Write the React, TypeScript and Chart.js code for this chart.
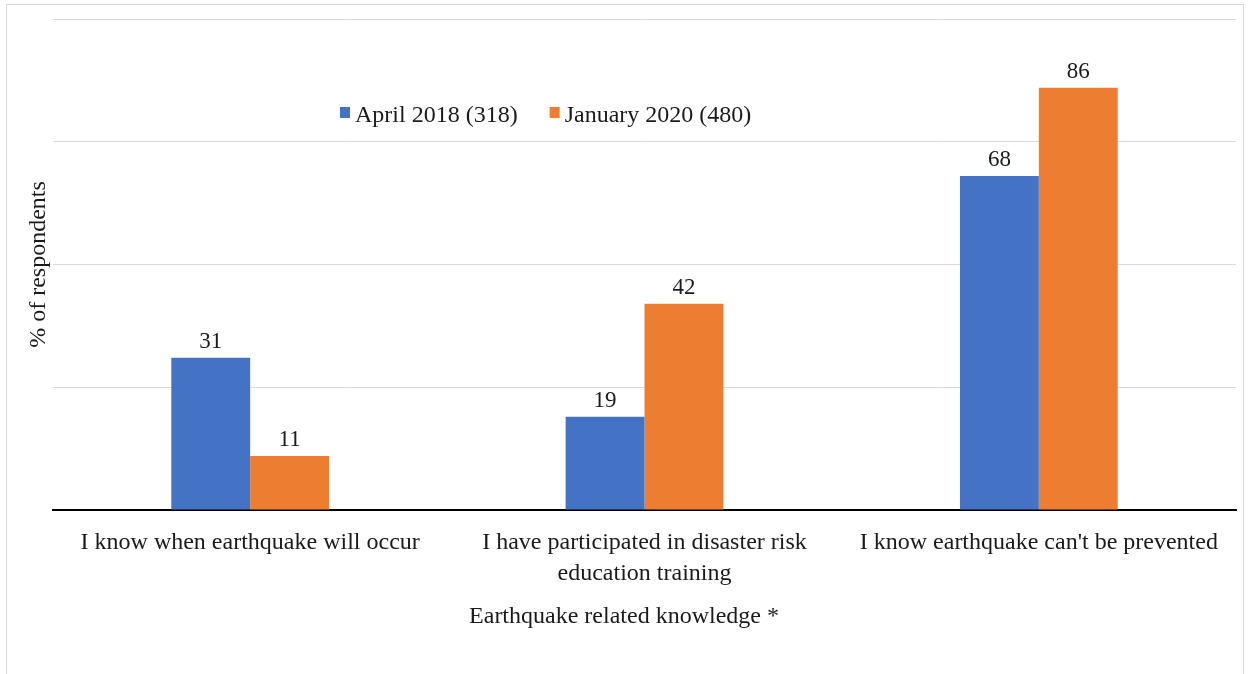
import React, { useEffect, useRef } from "react";
import { Chart, registerables } from "chart.js";

Chart.register(...registerables);

const categories: (string | string[])[] = [
  "I know when earthquake will occur",
  ["I have participated in disaster risk", "education training"],
  "I know earthquake can't be prevented",
];
const seriesNames = ["April 2018 (318)", "January 2020 (480)"];
const april2018 = [31, 19, 68];
const january2020 = [11, 42, 86];
const yMin = 0;
const yMax = 100;
const yStep = 25;
const xTitle = "Earthquake related knowledge *";
const yTitle = "% of respondents";
const colors = ["#4472C4", "#ED7D31"];
const FONT = "'Liberation Serif', 'Times New Roman', serif";
const TEXT = "#1a1a1a";

const framePlugin = {
  id: "frame",
  beforeDraw(chart: any) {
    const { ctx, width, height } = chart;
    ctx.save();
    ctx.fillStyle = "#ffffff";
    ctx.fillRect(0, 0, width, height);
    ctx.strokeStyle = "#d9d9d9";
    ctx.lineWidth = 1;
    ctx.strokeRect(6.5, 4.5, width - 14, height + 20);
    ctx.restore();
  },
};

const dataLabelPlugin = {
  id: "dataLabels",
  afterDatasetsDraw(chart: any) {
    const { ctx } = chart;
    ctx.save();
    ctx.font = `23px ${FONT}`;
    ctx.fillStyle = TEXT;
    ctx.textAlign = "center";
    ctx.textBaseline = "alphabetic";
    chart.data.datasets.forEach((ds: any, i: number) => {
      const meta = chart.getDatasetMeta(i);
      meta.data.forEach((el: any, j: number) => {
        ctx.fillText(String(ds.data[j]), el.x, el.y - 10);
      });
    });
    ctx.restore();
  },
};

const legendPlugin = {
  id: "customLegend",
  afterDraw(chart: any) {
    const { ctx } = chart;
    ctx.save();
    ctx.font = `24px ${FONT}`;
    ctx.textBaseline = "alphabetic";
    ctx.textAlign = "left";
    let x = 340;
    const y = 122;
    chart.data.datasets.forEach((ds: any) => {
      ctx.fillStyle = ds.backgroundColor;
      ctx.fillRect(x, y - 15, 10, 11);
      x += 15;
      ctx.fillStyle = TEXT;
      ctx.fillText(ds.label, x, y);
      x += ctx.measureText(ds.label).width + 32;
    });
    ctx.restore();
  },
};

const xTitlePlugin = {
  id: "xTitle",
  afterDraw(chart: any) {
    const { ctx } = chart;
    ctx.save();
    ctx.font = `24px ${FONT}`;
    ctx.fillStyle = TEXT;
    ctx.textAlign = "center";
    ctx.textBaseline = "middle";
    ctx.fillText(xTitle, 624, 617);
    ctx.restore();
  },
};

export default function App() {
  const ref = useRef<HTMLCanvasElement | null>(null);

  useEffect(() => {
    if (!ref.current) return;
    const chart = new Chart(ref.current, {
      type: "bar",
      data: {
        labels: categories,
        datasets: [
          {
            label: seriesNames[0],
            data: april2018,
            backgroundColor: colors[0],
            barPercentage: 1,
            categoryPercentage: 0.4,
          },
          {
            label: seriesNames[1],
            data: january2020,
            backgroundColor: colors[1],
            barPercentage: 1,
            categoryPercentage: 0.4,
          },
        ],
      },
      options: {
        animation: false,
        responsive: true,
        maintainAspectRatio: false,
        layout: { padding: { left: 0, right: 15, top: 19, bottom: 0 } },
        plugins: {
          legend: { display: false },
          tooltip: { enabled: false },
        },
        scales: {
          x: {
            grid: { display: false, drawTicks: false },
            border: { display: true, color: "#000000", width: 2 },
            ticks: {
              font: { family: FONT, size: 24, lineHeight: 1.3 },
              color: TEXT,
              padding: 17,
              maxRotation: 0,
              autoSkip: false,
            },
            title: { display: false },
            afterFit: (s: any) => {
              s.height = 164;
            },
          },
          y: {
            min: yMin,
            max: yMax,
            ticks: { display: false, stepSize: yStep },
            grid: {
              drawTicks: false,
              color: (c: any) => (c.tick && c.tick.value === 0 ? "rgba(0,0,0,0)" : "#d9d9d9"),
              lineWidth: 1,
            },
            border: { display: false },
            title: {
              display: true,
              text: yTitle,
              font: { family: FONT, size: 24 },
              color: TEXT,
              padding: { top: 24, bottom: 0 },
            },
            afterFit: (s: any) => {
              s.width = 53;
            },
          },
        },
      },
      plugins: [framePlugin, dataLabelPlugin, legendPlugin, xTitlePlugin],
    });
    return () => chart.destroy();
  }, []);

  return (
    <div style={{ position: "absolute", left: 0, top: 0, width: 1251, height: 674 }}>
      <canvas ref={ref} />
    </div>
  );
}
